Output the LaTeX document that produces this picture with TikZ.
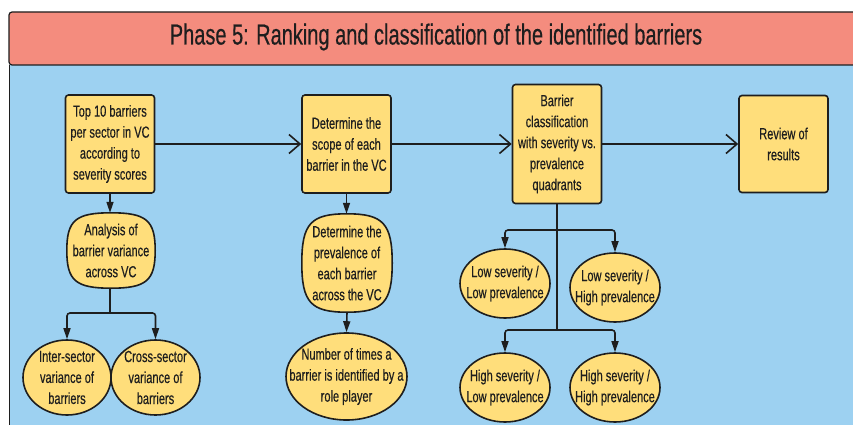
\documentclass[tikz,border=0pt]{standalone}
\usepackage{fontspec}
\setmainfont{Liberation Sans}[FakeStretch=0.69,FakeBold=0.4]
\usetikzlibrary{arrows.meta,calc,shapes.geometric}

\definecolor{bandred}{HTML}{F48C7E}
\definecolor{skyblue}{HTML}{9DD1F1}
\definecolor{boxyellow}{HTML}{FFDE7B}
\definecolor{inkgray}{HTML}{1E1E1E}

\tikzset{
  bodytext/.style={font=\fontsize{16}{21}\selectfont, text=inkgray, align=center, inner sep=0pt},
  stepbox/.style={bodytext, draw=inkgray, fill=boxyellow, line width=1.6pt,
    rounded corners=3pt, minimum width=89pt},
  oval/.style={ellipse, draw=inkgray, fill=boxyellow, line width=1.6pt, inner sep=0pt},
  frame/.style={rectangle, draw=none, inner sep=0pt},
  conn/.style={draw=inkgray, line width=1.6pt},
  flow/.style={conn, -{Straight Barb[length=11pt,width=19pt]}},
  drop/.style={conn, -{Triangle[length=11pt,width=7pt]}},
  fork/.style={conn, rounded corners=3pt, -{Triangle[length=11pt,width=7pt]}},
}

% rounded "soft box" outline drawn around an empty frame node
\newcommand\softbox[1]{%
  \path[draw=inkgray, fill=boxyellow, line width=1.6pt]
  (#1.west) .. controls ($(#1.west)!0.8!(#1.north west)$) and ($(#1.north)!0.8!(#1.north west)$) .. (#1.north)
  .. controls ($(#1.north)!0.8!(#1.north east)$) and ($(#1.east)!0.8!(#1.north east)$) .. (#1.east)
  .. controls ($(#1.east)!0.8!(#1.south east)$) and ($(#1.south)!0.8!(#1.south east)$) .. (#1.south)
  .. controls ($(#1.south)!0.8!(#1.south west)$) and ($(#1.west)!0.8!(#1.south west)$) .. (#1.west) -- cycle;}

\begin{document}
\begin{tikzpicture}[x=1pt,y=-1pt]
  \useasboundingbox (0,0) rectangle (853,425);
  \clip (0,0) rectangle (853,425);
  \fill[white] (0,0) rectangle (853,425);

  % phase panel
  \fill[skyblue] (9,65) rectangle (880,440);
  \draw[inkgray, line width=1pt] (9,440) -- (9,65);
  \path[fill=bandred, draw=inkgray, line width=1.2pt, rounded corners=3pt]
    (9,65) -- (9,12) -- (880,12) -- (880,65) -- cycle;
  \node[font=\fontsize{29}{33}\selectfont, text=inkgray, inner sep=0pt] (title) at (436,37)
    {Phase 5: Ranking and classification of the identified barriers};

  % main steps
  \node[stepbox, minimum height=98pt] (top10) at (110,144)
    {Top 10 barriers\\per sector in VC\\according to\\severity scores};
  \node[stepbox, minimum height=98pt] (scope) at (346.5,144)
    {Determine the\\scope of each\\barrier in the VC};
  \node[stepbox, minimum height=119pt] (class) at (557,144)
    {Barrier\\classification\\with severity vs.\\prevalence\\quadrants};
  \node[stepbox, minimum height=97pt] (review) at (783.5,144)
    {Review of\\results};

  \draw[flow] (top10.east) -- (scope.west);
  \draw[flow] (scope.east) -- (class.west);
  \draw[flow] (class.east) -- (review.west);

  % variance analysis branch
  \node[frame, minimum width=88pt, minimum height=75pt] (anal) at (111,250.5) {};
  \softbox{anal}
  \node[bodytext] (anal-t) at (anal) {Analysis of\\barrier variance\\across VC};
  \draw[drop] (top10.south) -- (top10.south |- anal.north);

  \node[oval, minimum width=88pt, minimum height=75pt] (inter) at (67,377.5) {};
  \node[bodytext] (inter-t) at (inter) {Inter-sector\\variance of\\barriers};
  \node[oval, minimum width=89pt, minimum height=75pt] (cross) at (155.5,377.5) {};
  \node[bodytext] (cross-t) at (cross) {Cross-sector\\variance of\\barriers};

  \coordinate (j1) at (110,313);
  \draw[conn] (anal.south -| j1) -- (j1);
  \draw[fork] (j1) -| (inter.north);
  \draw[fork] (j1) -| (cross.north);

  % prevalence branch
  \node[frame, minimum width=90pt, minimum height=98pt] (prev) at (347,263) {};
  \softbox{prev}
  \node[bodytext] (prev-t) at (prev) {Determine the\\prevalence of\\each barrier\\across the VC};
  \draw[drop] (scope.south) -- (scope.south |- prev.north);

  \node[oval, minimum width=121pt, minimum height=87pt] (count) at (346.5,376.5) {};
  \node[bodytext] (count-t) at (count) {Number of times a\\barrier is identified by a\\role player};
  \draw[drop] (prev.south) -- (count.north);

  % quadrant branch
  \node[oval, minimum width=90pt, minimum height=69pt] (lsl) at (505,283.5) {};
  \node[bodytext] (lsl-t) at (lsl) {Low severity /\\Low prevalence};
  \node[oval, minimum width=90pt, minimum height=69pt] (lsh) at (615,287.5) {};
  \node[bodytext] (lsh-t) at (lsh) {Low severity /\\High prevalence};
  \node[oval, minimum width=90pt, minimum height=69pt] (hsl) at (505,387.5) {};
  \node[bodytext] (hsl-t) at (hsl) {High severity /\\Low prevalence};
  \node[oval, minimum width=90pt, minimum height=69pt] (hsh) at (615,387.5) {};
  \node[bodytext] (hsh-t) at (hsh) {High severity /\\High prevalence};

  \coordinate (j2) at (557,230);
  \coordinate (j3) at (557,330);
  \draw[conn] (class.south) -- (j3);
  \draw[fork] (j2) -| (lsl.north);
  \draw[fork] (j2) -| (lsh.north);
  \draw[fork] (j3) -| (hsl.north);
  \draw[fork] (j3) -| (hsh.north);
\end{tikzpicture}
\end{document}
